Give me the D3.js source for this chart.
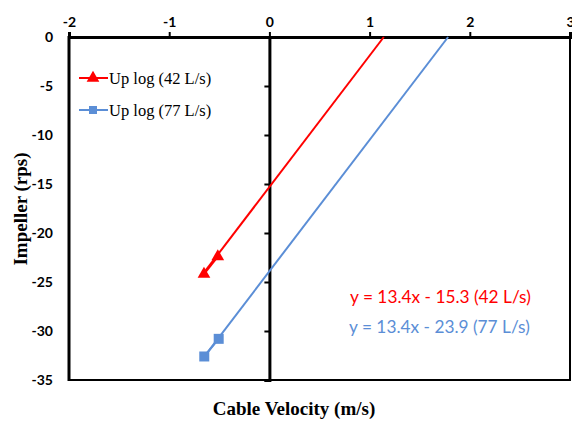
<!DOCTYPE html>
<html><head><meta charset="utf-8">
<script src="https://cdn.jsdelivr.net/npm/d3@7"></script>
<style>body{margin:0;background:#fff}svg{display:block}</style>
</head><body>
<script>
// Measured points (cable velocity m/s, impeller rps)
const velocity42 = [-0.653, -0.515];
const impeller42 = [-24.2, -22.4];
const velocity77 = [-0.65, -0.506];
const impeller77 = [-32.6, -30.8];
// Linear fits: y = slope*x + intercept
const fitSlope = [13.4, 13.4];
const fitIntercept = [-15.3, -23.9];
const seriesNames = ["Up log (42 L/s)", "Up log (77 L/s)"];
const fitLabels = ["y = 13.4x - 15.3 (42 L/s)", "y = 13.4x - 23.9 (77 L/s)"];
const xTicks = [-2, -1, 0, 1, 2, 3];
const yTicks = [0, -5, -10, -15, -20, -25, -30, -35];

const W = 572, H = 421;
const red = "#ff0000", blue = "#5b8ed6";
const colors = [red, blue];
const svg = d3.select("body").append("svg").attr("width", W).attr("height", H);

const x = d3.scaleLinear().domain([-2, 3]).range([69, 570]);
const y = d3.scaleLinear().domain([0, -35]).range([37, 380]);

// frame
svg.append("rect").attr("x", 69).attr("y", 37).attr("width", 501).attr("height", 343)
  .attr("fill", "none").attr("stroke", "#000").attr("stroke-width", 2);
svg.append("line").attr("x1", 69).attr("x2", 69).attr("y1", 36).attr("y2", 381)
  .attr("stroke", "#000").attr("stroke-width", 3);

// top x axis
const xAxis = d3.axisTop(x).tickValues(xTicks).tickSize(5).tickFormat(d => String(d));
const gx = svg.append("g").attr("transform", "translate(0,37)").call(xAxis);
gx.select(".domain").attr("stroke-width", 3);
gx.selectAll(".tick line").attr("stroke-width", 2);
gx.selectAll("text").attr("font-family", "Lato, 'Open Sans', sans-serif")
  .attr("font-weight", "bold").attr("font-size", 14).attr("fill", "#000").attr("dy", "-2");

// vertical axis at x = 0
const yAxis = d3.axisLeft(y).tickValues(yTicks).tickSize(5).tickFormat("");
const gy = svg.append("g").attr("transform", `translate(${x(0)},0)`).call(yAxis);
gy.select(".domain").attr("stroke-width", 3);
gy.selectAll(".tick line").attr("stroke-width", 2);

// y tick labels at the left of the plot
svg.append("g").selectAll("text").data(yTicks).join("text")
  .attr("x", 53).attr("y", d => y(d)).attr("dy", "0.35em")
  .attr("text-anchor", "end")
  .attr("font-family", "Lato, 'Open Sans', sans-serif").attr("font-weight", "bold")
  .attr("font-size", 14).text(d => String(d));

// trend lines from first point up to y = 0, plus series segments
const series = [
  {vx: velocity42, vy: impeller42},
  {vx: velocity77, vy: impeller77}
];
series.forEach((s, i) => {
  const x0 = d3.min(s.vx);
  const x1 = -fitIntercept[i] / fitSlope[i];
  svg.append("line")
    .attr("x1", x(x0)).attr("y1", y(fitSlope[i] * x0 + fitIntercept[i]))
    .attr("x2", x(x1)).attr("y2", y(0))
    .attr("stroke", colors[i]).attr("stroke-width", 2);
  const pts = s.vx.map((v, k) => [v, s.vy[k]]);
  svg.append("path").attr("d", d3.line().x(d => x(d[0])).y(d => y(d[1]))(pts))
    .attr("fill", "none").attr("stroke", colors[i]).attr("stroke-width", 2);
});

const tri = d3.symbol().type(d3.symbolTriangle).size(70);
const sq = d3.symbol().type(d3.symbolSquare).size(100);
svg.append("g").selectAll("path").data(velocity42.map((v, k) => [v, impeller42[k]])).join("path")
  .attr("d", tri).attr("fill", red)
  .attr("transform", d => `translate(${x(d[0])},${y(d[1])})`);
svg.append("g").selectAll("path").data(velocity77.map((v, k) => [v, impeller77[k]])).join("path")
  .attr("d", sq).attr("fill", blue)
  .attr("transform", d => `translate(${x(d[0])},${y(d[1])})`);

// legend
const lg = svg.append("g");
seriesNames.forEach((name, i) => {
  const ly = 78 + i * 32;
  lg.append("line").attr("x1", 79).attr("x2", 108).attr("y1", ly).attr("y2", ly)
    .attr("stroke", colors[i]).attr("stroke-width", 2);
  lg.append("path").attr("d", i === 0 ? tri : d3.symbol().type(d3.symbolSquare).size(64))
    .attr("fill", colors[i]).attr("transform", `translate(93,${ly})`);
  lg.append("text").attr("x", 109).attr("y", ly).attr("dy", "0.35em")
    .attr("font-family", "'Liberation Serif', 'Times New Roman', serif")
    .attr("font-size", 16.5).text(name);
});

// fit equations
fitLabels.forEach((t, i) => {
  svg.append("text").attr("x", 350 - i).attr("y", 297 + i * 30).attr("dy", "0.35em")
    .attr("font-family", "Lato, 'Open Sans', sans-serif").attr("font-size", 17.3)
    .attr("fill", colors[i]).text(t);
});

// axis titles
svg.append("text").attr("x", 294).attr("y", 408).attr("dy", "0.35em")
  .attr("text-anchor", "middle")
  .attr("font-family", "'Liberation Serif', 'Times New Roman', serif")
  .attr("font-weight", "bold").attr("font-size", 19).text("Cable Velocity (m/s)");
svg.append("text").attr("transform", "translate(20,209) rotate(-90)").attr("dy", "0.35em")
  .attr("text-anchor", "middle")
  .attr("font-family", "'Liberation Serif', 'Times New Roman', serif")
  .attr("font-weight", "bold").attr("font-size", 19).text("Impeller (rps)");
</script>
</body></html>
